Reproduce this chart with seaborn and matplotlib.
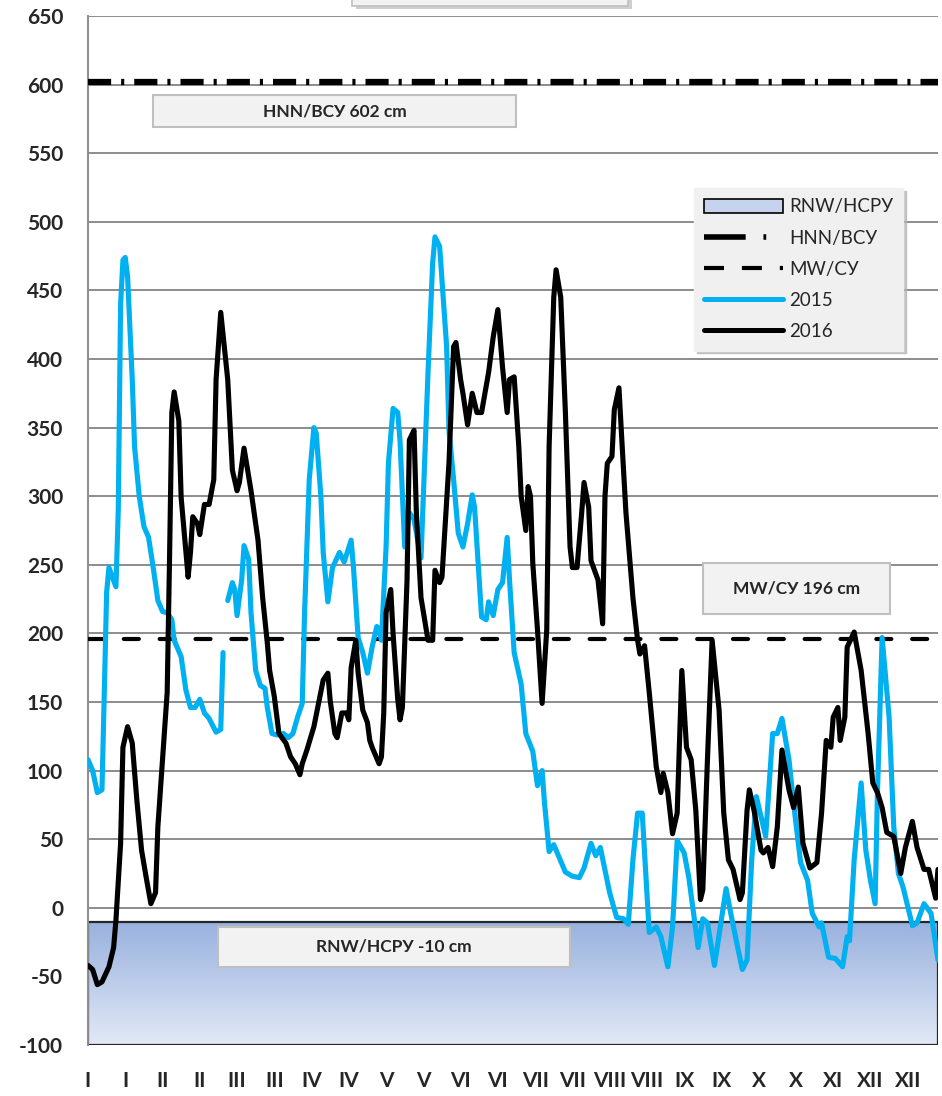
import numpy as np
import pandas as pd
import seaborn as sns
import matplotlib.pyplot as plt
from matplotlib.patches import Rectangle, Patch
from matplotlib.lines import Line2D
from matplotlib.colors import LinearSegmentedColormap

# --- podaci: dan u godini (0 = 1. januar) i vodostaj u cm ---
days_2015_a = [0, 2, 4, 6, 7, 8, 9, 12, 13, 14, 15, 16, 17, 19, 20, 22, 24, 26, 28, 30,
               32, 34, 36, 37, 40, 42, 44, 46, 48, 50, 52, 55, 57, 58]
level_2015_a = [108, 100, 84, 86, 157, 230, 248, 234, 290, 440, 472, 474, 460, 385, 336, 300,
                278, 270, 248, 224, 216, 215, 210, 195, 183, 159, 146, 146, 152, 142, 138,
                128, 130, 186]

days_2015_b = [60, 62, 63, 64, 66, 67, 69, 70, 72, 74, 76, 77, 79, 81, 84, 86, 88, 90, 92, 93,
               95, 97, 98, 100, 101, 103, 105, 108, 110, 113, 114, 116, 118, 120, 122, 124,
               125, 126, 128, 129, 131, 133, 134, 136, 138, 140, 143, 144, 146, 148, 149,
               151, 152, 154, 155, 157, 159, 161, 163, 165, 166, 168, 169, 171, 172, 174,
               176, 178, 180, 181, 183, 186, 188, 191, 193, 195, 196, 198, 200, 203, 205,
               208, 211, 213, 216, 218, 220, 224, 227, 230, 232, 234, 236, 238, 240, 241,
               244, 246, 249, 251, 253, 256, 258, 262, 264, 266, 269, 274, 276, 279, 281,
               283, 285, 287, 291, 294, 296, 298, 301, 303, 306, 309, 311, 314, 315, 318,
               321, 324, 326, 327, 329, 332, 334, 336, 338, 339, 341, 344, 346, 348, 350,
               354, 356, 359, 362, 365]
level_2015_b = [224, 237, 232, 213, 239, 264, 254, 215, 173, 162, 160, 146, 127, 126, 127, 124,
                127, 139, 149, 215, 312, 350, 346, 300, 259, 223, 248, 259, 252, 268, 248,
                197, 186, 171, 190, 205, 203, 195, 263, 324, 364, 361, 340, 263, 288, 283,
                255, 300, 390, 470, 489, 482, 458, 409, 348, 312, 273, 263, 280, 301, 292,
                239, 212, 210, 223, 213, 232, 237, 270, 239, 186, 163, 127, 114, 89, 100,
                77, 41, 46, 34, 26, 23, 22, 29, 47, 38, 44, 11, -7, -8, -12, 35, 69, 69, 11,
                -18, -14, -21, -43, -14, 49, 40, 22, -29, -8, -11, -42, 14, -4, -29, -45,
                -38, 35, 81, 52, 127, 127, 138, 108, 76, 33, 20, -4, -14, -11, -36, -37,
                -43, -21, -24, 35, 91, 42, 20, 3, 84, 197, 139, 59, 25, 15, -13, -11, 3, -4,
                -38]

days_2016 = [0, 2, 4, 6, 9, 11, 12, 14, 15, 17, 19, 21, 23, 25, 27, 29, 30, 32, 34, 35, 36,
             37, 39, 40, 43, 44, 45, 47, 48, 50, 52, 54, 55, 57, 60, 62, 64, 65, 67, 70, 73,
             75, 77, 78, 80, 82, 85, 87, 89, 91, 92, 94, 97, 99, 101, 103, 104, 106, 107,
             109, 111, 112, 113, 115, 116, 118, 120, 121, 122, 125, 126, 127, 128, 130, 131,
             133, 134, 135, 137, 138, 140, 141, 143, 146, 148, 149, 151, 152, 155, 157, 158,
             160, 161, 163, 165, 167, 169, 172, 174, 176, 178, 180, 181, 183, 185, 186, 188,
             189, 190, 191, 193, 195, 197, 198, 200, 201, 203, 205, 207, 208, 210, 212, 213,
             215, 216, 219, 221, 222, 223, 225, 226, 228, 229, 231, 234, 236, 237, 239, 241,
             244, 246, 247, 249, 251, 253, 255, 257, 259, 261, 263, 264, 266, 268, 271, 273,
             275, 277, 280, 281, 283, 284, 286, 289, 290, 292, 294, 296, 298, 301, 303, 305,
             307, 310, 313, 315, 317, 319, 320, 322, 323, 325, 326, 329, 332, 335, 337, 339,
             341, 343, 346, 349, 351, 354, 356, 359, 361, 364, 365]
level_2016 = [-42, -45, -56, -54, -43, -29, -9, 47, 117, 132, 120, 78, 42, 22, 3, 11, 59, 108,
              157, 253, 361, 376, 355, 299, 241, 259, 285, 280, 272, 294, 294, 312, 385, 434,
              385, 319, 304, 310, 335, 304, 268, 226, 193, 173, 154, 127, 120, 110, 105, 97,
              105, 115, 132, 149, 166, 171, 151, 127, 124, 142, 142, 137, 175, 195, 171, 144,
              135, 122, 117, 105, 110, 142, 215, 232, 200, 152, 137, 146, 239, 341, 348, 288,
              226, 195, 195, 246, 237, 241, 324, 409, 412, 385, 375, 352, 375, 361, 361, 390,
              416, 436, 394, 361, 385, 387, 336, 300, 275, 307, 300, 251, 203, 149, 203, 336,
              445, 465, 445, 361, 263, 248, 248, 288, 310, 292, 253, 239, 207, 300, 324, 329,
              363, 379, 348, 288, 226, 195, 185, 191, 157, 103, 84, 98, 84, 54, 69, 173, 117,
              108, 71, 6, 13, 108, 195, 144, 69, 35, 28, 6, 11, 71, 86, 71, 42, 40, 44, 30,
              59, 115, 86, 73, 88, 47, 29, 33, 69, 122, 117, 139, 146, 122, 139, 190, 201,
              173, 127, 91, 84, 73, 55, 52, 25, 44, 63, 44, 28, 28, 7, 28]

# karakteristični nivoi
hnn_level = 602
mw_level = 196
rnw_level = -10

# oznake na x osi (svakih 16 dana)
month_ticks = list(range(0, 366, 16))
month_labels = ['I', 'I', 'II', 'II', 'III', 'III', 'IV', 'IV', 'V', 'V', 'VI', 'VI',
                'VII', 'VII', 'VIII', 'VIII', 'IX', 'IX', 'X', 'X', 'XI', 'XII', 'XII']

df_15a = pd.DataFrame({'dan': days_2015_a, 'cm': level_2015_a})
df_15b = pd.DataFrame({'dan': days_2015_b, 'cm': level_2015_b})
df_16 = pd.DataFrame({'dan': days_2016, 'cm': level_2016})

sns.set_style("white")
plt.rcParams['font.family'] = ['Lato', 'DejaVu Sans']

fig = plt.figure(figsize=(9.42, 10.96), dpi=100)
ax = fig.add_axes([88 / 942, 1 - 1045 / 1096, 850 / 942, 1029 / 1096])

ymin, ymax = -100, 650
ax.set_xlim(0, 365)
ax.set_ylim(ymin, ymax)

# mreza
for v in range(-100, 651, 50):
    ax.axhline(v, color='#8c8c8c', lw=1.4, zorder=0)

# RNW zona sa gradijentom
grad = np.linspace(0, 1, 256).reshape(-1, 1)
cmap_rnw = LinearSegmentedColormap.from_list('rnw', ['#e2e9f6', '#98b1de'])
ax.imshow(grad, extent=[0, 365, ymin, rnw_level], origin='lower', aspect='auto',
          cmap=cmap_rnw, zorder=1)
ax.add_patch(Rectangle((0, ymin), 365, rnw_level - ymin, fill=False,
                       edgecolor='#262626', lw=1.6, zorder=2))

# HNN i MW linije
hnn_style = (0, (3.7, 1.6, 0.5, 1.6))
mw_style = (0, (3.6, 5.0))
ax.axhline(hnn_level, color='black', lw=4.5, linestyle=hnn_style, zorder=3)
ax.axhline(mw_level, color='black', lw=3.0, linestyle=mw_style, dash_capstyle='round', zorder=3)

# vodostaji
line_kw = dict(lw=3.7, estimator=None, sort=False, solid_joinstyle='round',
               solid_capstyle='round')
sns.lineplot(data=df_15a, x='dan', y='cm', ax=ax, color='#00b0f0', zorder=4, **line_kw)
sns.lineplot(data=df_15b, x='dan', y='cm', ax=ax, color='#00b0f0', zorder=4, **line_kw)
sns.lineplot(data=df_16, x='dan', y='cm', ax=ax, color='black', zorder=5, **line_kw)

# natpisi u kutijama
def label_box(x0, x1, y0, y1, text):
    ax.add_patch(Rectangle((x0, y0), x1 - x0, y1 - y0, facecolor='#f2f2f2',
                           edgecolor='#bfbfbf', lw=1.5, zorder=6))
    ax.text((x0 + x1) / 2, (y0 + y1) / 2, text, ha='center', va='center',
            fontsize=12.5, fontweight='bold', zorder=7)

label_box(27.9, 183.8, 569, 592.4, 'HNN/ВСУ 602 cm')
label_box(264.1, 344.4, 214.1, 251.3, 'MW/СУ 196 cm')
label_box(55.8, 207.0, -43, -14, 'RNW/НСРУ -10 cm')

# odsečena kutija naslova na vrhu
fig.patches.append(Rectangle((356 / 942, 1 - 9 / 1096), 276 / 942, 0.03,
                             transform=fig.transFigure, facecolor='#cfcfcf',
                             edgecolor='none', zorder=0))
fig.patches.append(Rectangle((352 / 942, 1 - 6 / 1096), 276 / 942, 0.03,
                             transform=fig.transFigure, facecolor='#f2f2f2',
                             edgecolor='#bfbfbf', lw=1.2, zorder=1))

# ose
ax.set_yticks(range(-100, 651, 50))
ax.set_yticklabels([str(v) for v in range(-100, 651, 50)])
ax.set_xticks(month_ticks)
ax.set_xticklabels(month_labels)
ax.tick_params(axis='both', length=0, labelsize=15)
ax.tick_params(axis='y', pad=18)
ax.tick_params(axis='x', pad=19)
for lab in ax.get_xticklabels() + ax.get_yticklabels():
    lab.set_fontweight('bold')
ax.set_xlabel('')
ax.set_ylabel('')
for s in ['top', 'right', 'bottom']:
    ax.spines[s].set_visible(False)
ax.spines['left'].set_color('#8c8c8c')
ax.spines['left'].set_linewidth(1.4)

# legenda
handles = [
    Patch(facecolor='#c5d3ee', edgecolor='black', lw=1.2, label='RNW/НСРУ'),
    Line2D([], [], color='black', lw=4.0, linestyle=(0, (7.5, 3.2, 0.5, 5.0)), label='HNN/ВСУ'),
    Line2D([], [], color='black', lw=3.0, linestyle=(0, (4.8, 4.3)), label='MW/СУ'),
    Line2D([], [], color='#00b0f0', lw=3.6, label='2015'),
    Line2D([], [], color='black', lw=3.6, label='2016'),
]
leg = ax.legend(handles=handles, loc='upper left', bbox_to_anchor=(0.702, 0.842),
                fontsize=13.5, handlelength=4.2, handleheight=0.8, labelspacing=0.76,
                handletextpad=0.3, borderpad=0.55, frameon=True, fancybox=False,
                facecolor='#f0f0f0', edgecolor='#f0f0f0', framealpha=1,
                shadow={'color': '#b0b0b0', 'alpha': 0.7})
leg.set_zorder(8)

plt.savefig('out.png', dpi=100)
